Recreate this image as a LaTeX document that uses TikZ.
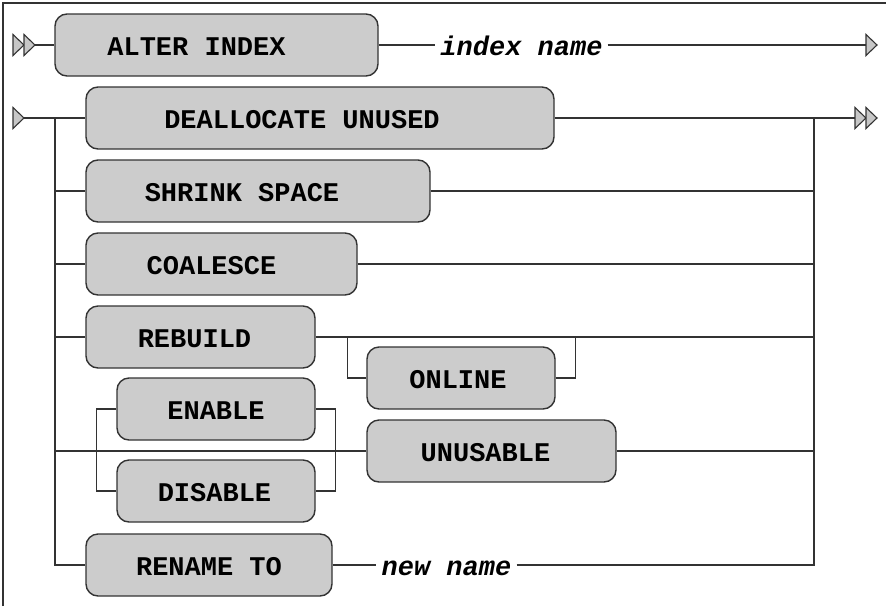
\documentclass[tikz,border=0pt]{standalone}
\usepackage{fontspec}
\setmonofont{Liberation Mono}
\usepackage{xcolor}
\definecolor{boxgray}{rgb}{0.8,0.8,0.8}
\definecolor{linegray}{rgb}{0.2,0.2,0.2}
\definecolor{tipgray}{rgb}{0.78,0.78,0.78}
\usepackage{tikz}

\begin{document}
\begin{tikzpicture}[x=1pt, y=-1pt,
  kw/.style={draw=linegray, line width=1.4pt, rounded corners=12pt, fill=boxgray, minimum height=62pt, inner sep=0pt},
  kwtext/.style={font=\ttfamily\bfseries\fontsize{27}{32}\selectfont, text=black, yshift=-2pt},
  arg/.style={font=\ttfamily\bfseries\itshape\fontsize{27}{32}\selectfont, inner xsep=5pt, inner ysep=0pt, text height=20pt, text depth=0pt},
  rail/.style={linegray, line width=1.3pt},
  railtip/.style={draw=linegray, fill=tipgray, line width=1.1pt, line join=miter},
  frame/.style={linegray, line width=1.5pt}
]
\useasboundingbox (0,0) rectangle (886,606);
\draw[frame] (3,606) -- (3,3) -- (886,3);
\node[kw, minimum width=323pt, label={[kwtext, xshift=-20pt]center:ALTER INDEX}] (alter) at (216.5,45) {};
\node[kw, minimum width=468pt, label={[kwtext, xshift=-18pt]center:DEALLOCATE UNUSED}] (dealloc) at (320,118) {};
\node[kw, minimum width=344pt, label={[kwtext, xshift=-16pt]center:SHRINK SPACE}] (shrink) at (258,191) {};
\node[kw, minimum width=271pt, label={[kwtext, xshift=-10pt]center:COALESCE}] (coal) at (221.5,264) {};
\node[kw, minimum width=229pt, label={[kwtext, xshift=-6pt]center:REBUILD}] (rebuild) at (200.5,337) {};
\node[kw, minimum width=188pt, label={[kwtext, xshift=-3pt]center:ONLINE}] (online) at (461,378) {};
\node[kw, minimum width=198pt, label={[kwtext]center:ENABLE}] (enable) at (216,409) {};
\node[kw, minimum width=249pt, label={[kwtext, xshift=-6pt]center:UNUSABLE}] (unusable) at (491.5,451) {};
\node[kw, minimum width=198pt, label={[kwtext, xshift=-1.5pt]center:DISABLE}] (disable) at (216,491) {};
\node[kw, minimum width=246pt, label={[kwtext]center:RENAME TO}] (rename) at (209,565) {};
\node[arg] (iname) at (521.5,45) {index name};
\node[arg] (nname) at (446.5,565) {new name};
\coordinate (in1) at (35,45);
\coordinate (out1) at (866,45);
\coordinate (in2) at (24,118);
\coordinate (out2) at (855,118);
\coordinate (railL) at (55,118);
\coordinate (railR) at (814,118);
\draw[railtip] (13,45) ++(0,-10.5) -- ++(11,10.5) -- ++(-11,10.5) -- cycle;
\draw[railtip] (24,45) ++(0,-10.5) -- ++(11,10.5) -- ++(-11,10.5) -- cycle;
\draw[railtip] (13,118) ++(0,-10.5) -- ++(11,10.5) -- ++(-11,10.5) -- cycle;
\draw[railtip] (866,45) ++(0,-10.5) -- ++(11,10.5) -- ++(-11,10.5) -- cycle;
\draw[railtip] (855,118) ++(0,-10.5) -- ++(11,10.5) -- ++(-11,10.5) -- cycle;
\draw[railtip] (866,118) ++(0,-10.5) -- ++(11,10.5) -- ++(-11,10.5) -- cycle;
\draw[rail] (in1) -- (alter.west);
\draw[rail] (alter.east) -- (iname.west);
\draw[rail] (iname.east) -- (out1);
\draw[rail] (in2) -- (dealloc.west);
\draw[rail] (dealloc.east) -- (out2);
\draw[rail] (railL) -- (railL |- rename.west) -- (rename.west);
\draw[rail] (railL |- shrink.west) -- (shrink.west);
\draw[rail] (railL |- coal.west) -- (coal.west);
\draw[rail] (railL |- rebuild.west) -- (rebuild.west);
\draw[rail] (railL |- unusable.west) -- (unusable.west);
\draw[rail] (enable.west) -- ++(-20,0) |- (disable.west);
\draw[rail] (enable.east) -- ++(20,0) |- (disable.east);
\draw[rail] (rebuild.east) -- (railR |- rebuild.east);
\draw[rail] (rebuild.east) ++(32,0) |- (online.west);
\draw[rail] (online.east) -- ++(20,0) -- ++(0,-41);
\draw[rail] (shrink.east) -- (railR |- shrink.east);
\draw[rail] (coal.east) -- (railR |- coal.east);
\draw[rail] (unusable.east) -- (railR |- unusable.east);
\draw[rail] (rename.east) -- (nname.west);
\draw[rail] (nname.east) -| (railR);
\end{tikzpicture}
\end{document}
